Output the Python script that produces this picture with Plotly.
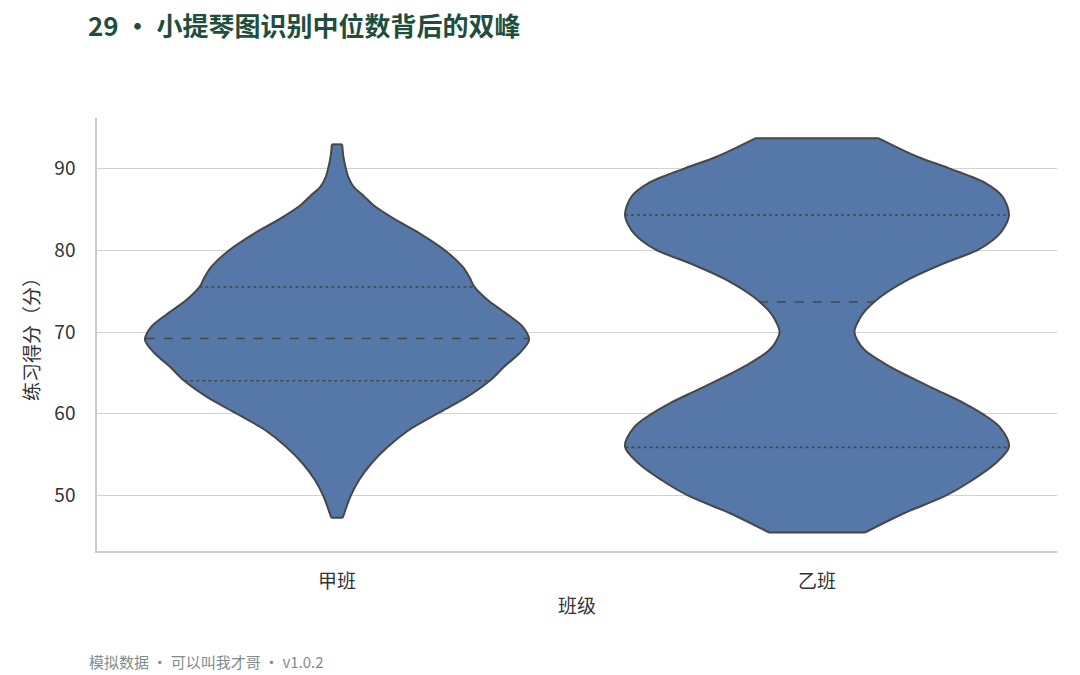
import numpy as np
import plotly.graph_objects as go

# classes on the x axis
classes = ["甲班", "乙班"]

# density profile (score, relative density, max = 1)
a_scores = [47.3, 50.0, 51.92, 53.96, 55.99, 58.03, 60.06, 62.1, 64.13, 65.76, 67.4, 69.02,
            70.65, 72.28, 73.9, 75.54, 76.7, 77.98, 80.02, 82.06, 83.8, 85.5, 86.6, 87.8,
            89.0, 90.0, 91.5, 92.93]
a_density = [0.03, 0.072, 0.115, 0.18, 0.265, 0.375, 0.525, 0.68, 0.80, 0.87, 0.95, 1.0,
             0.967, 0.88, 0.785, 0.715, 0.69, 0.654, 0.56, 0.43, 0.30, 0.19, 0.14, 0.085,
             0.058, 0.046, 0.033, 0.027]

b_scores = [45.5, 47.85, 50.0, 51.92, 53.96, 55.99, 58.43, 60.0, 61.29, 62.9, 64.54, 66.17,
            67.8, 69.0, 70.04, 71.1, 72.28, 74.3, 76.35, 78.4, 80.0, 81.2, 82.46, 84.3,
            86.53, 88.17, 90.0, 91.42, 93.67]
b_density = [0.25, 0.453, 0.67, 0.81, 0.93, 1.0, 0.95, 0.862, 0.767, 0.625, 0.48, 0.35,
             0.248, 0.21, 0.195, 0.21, 0.24, 0.331, 0.47, 0.662, 0.836, 0.915, 0.967, 1.0,
             0.967, 0.88, 0.688, 0.523, 0.322]

# quartiles (Q1, median, Q3)
a_quartiles = [64.05, 69.2, 75.5]
b_quartiles = [55.9, 73.67, 84.3]

scores = [a_scores, b_scores]
densities = [a_density, b_density]
quartiles = [a_quartiles, b_quartiles]

fill_color = "#5578a8"
edge_color = "#474747"
half_width = 0.4

fig = go.Figure()

for i, name in enumerate(classes):
    ys = np.array(scores[i])
    hw = np.array(densities[i]) * half_width
    edge = dict(color=edge_color, width=2, shape="spline", smoothing=0.9)
    # left outline, then right outline filled back to it
    fig.add_trace(go.Scatter(x=i - hw, y=ys, mode="lines", line=edge,
                             hoverinfo="skip", showlegend=False))
    fig.add_trace(go.Scatter(x=i + hw, y=ys, mode="lines", line=edge,
                             fill="tonextx", fillcolor=fill_color,
                             hoverinfo="skip", showlegend=False))
    # flat caps at the ends of the data
    for k in (0, -1):
        fig.add_trace(go.Scatter(x=[i - hw[k], i + hw[k]], y=[ys[k], ys[k]], mode="lines",
                                 line=dict(color=edge_color, width=2),
                                 hoverinfo="skip", showlegend=False))
    for j, q in enumerate(quartiles[i]):
        w = np.interp(q, ys, hw)
        fig.add_trace(go.Scatter(x=[i - w, i + w], y=[q, q], mode="lines",
                                 line=dict(color=edge_color, width=1.6,
                                           dash="dash" if j == 1 else "dot"),
                                 hoverinfo="skip", showlegend=False))

fig.update_layout(
    width=1080, height=675,
    paper_bgcolor="white", plot_bgcolor="white",
    margin=dict(l=97, r=23, t=118, b=124),
    font=dict(family="Noto Sans CJK SC, Noto Sans, sans-serif", color="#333333", size=19),
    title=dict(text="<b>29 • 小提琴图识别中位数背后的双峰</b>",
               x=88 / 1080, xanchor="left", xref="container",
               y=1 - 27 / 675, yanchor="middle", yref="container",
               font=dict(size=26, color="#1f4e3d")),
    annotations=[dict(text="模拟数据 · 可以叫我才哥 · v1.0.2", xref="paper", yref="paper",
                      x=(87 - 97) / 960, y=(551 - 661) / 433,
                      xanchor="left", yanchor="middle",
                      showarrow=False, font=dict(size=15, color="#7f8c8d"))],
)

fig.update_xaxes(range=[-0.5, 1.5], tickvals=[0, 1], ticktext=classes,
                 showgrid=False, zeroline=False, showline=True, automargin=False,
                 linecolor="#cccccc", linewidth=1.5, ticks="",
                 ticklabelstandoff=12,
                 title=dict(text="班级", standoff=8, font=dict(size=19)))
fig.update_yaxes(range=[43.24, 96.15], tickvals=[50, 60, 70, 80, 90],
                 showgrid=True, gridcolor="#d3d3d3", gridwidth=1.3,
                 zeroline=False, showline=True, automargin=False,
                 linecolor="#cccccc", linewidth=1.5, ticks="",
                 ticklabelstandoff=16,
                 title=dict(text="练习得分（分）", standoff=10, font=dict(size=19)))

fig.write_html("out.html", config={"displayModeBar": False},
               post_script="document.body.style.margin='0';")
